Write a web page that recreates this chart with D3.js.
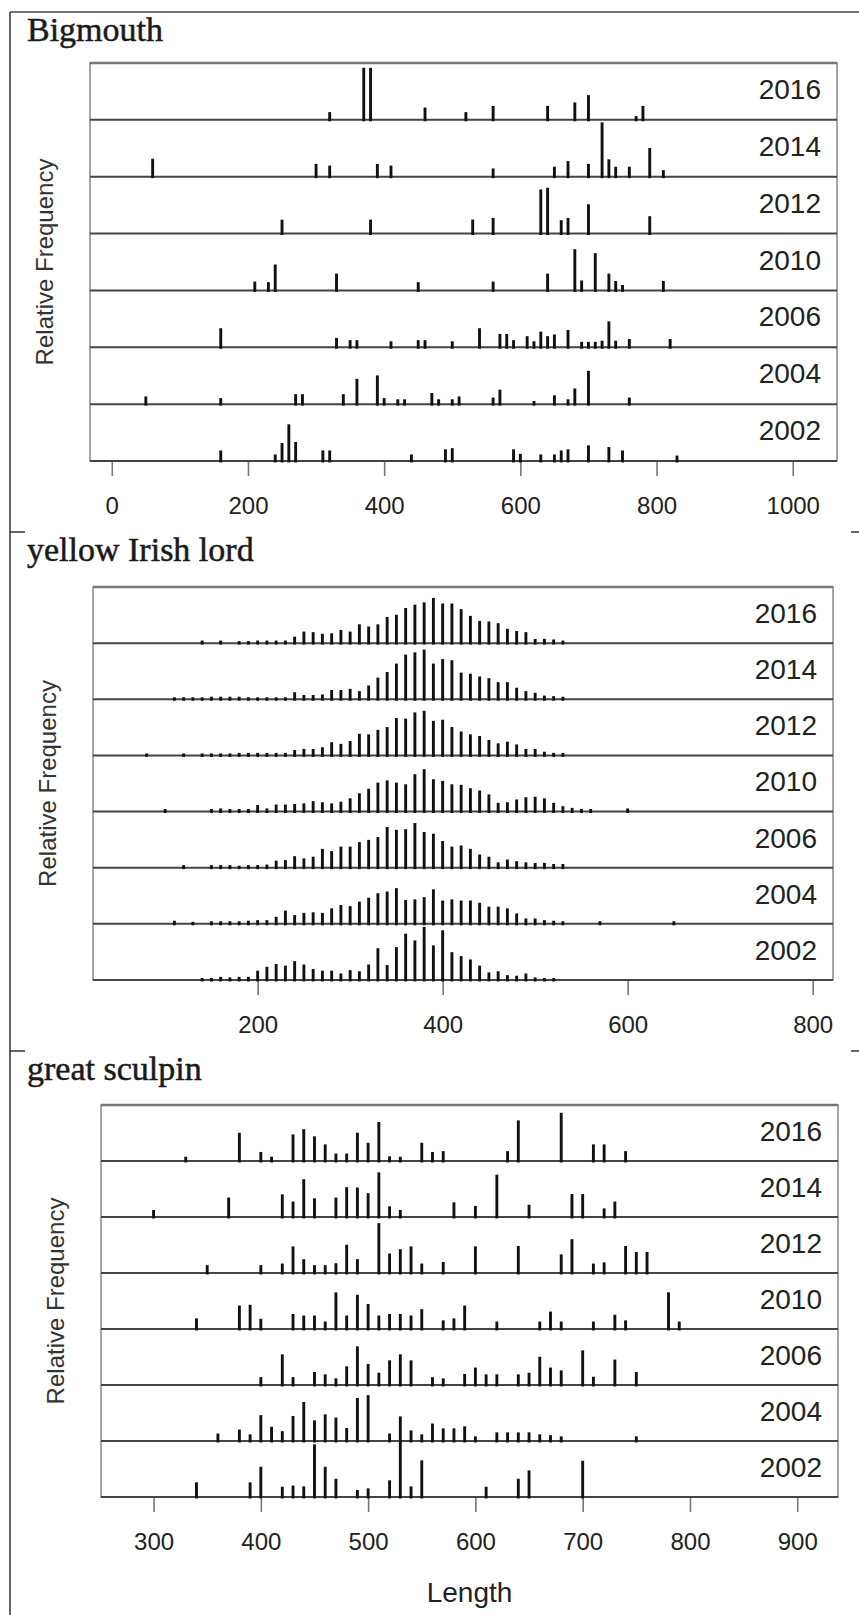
<!DOCTYPE html>
<html>
<head>
<meta charset="utf-8">
<script src="https://cdn.jsdelivr.net/npm/d3@7"></script>
<style>
  body { margin: 0; background: #fff; }
  svg { display: block; }
  text { font-family: "Liberation Sans", Arial, sans-serif; }
</style>
</head>
<body>
<div id="chart"></div>
<script>
var years = ["2016", "2014", "2012", "2010", "2006", "2004", "2002"];

// Bigmouth, [length, relative frequency %]
var bm2016 = [[320,3.3],[370,26.7],[380,26.7],[460,5.7],[520,3.3],[560,6.6],[640,6.6],[680,8.4],[700,12.3],[770,1.2],[780,6.6]];
var bm2014 = [[60,8.7],[300,6.0],[320,5.1],[390,6.0],[410,5.1],[560,3.6],[650,4.5],[670,7.5],[700,6.0],[720,27.9],[730,8.4],[740,4.5],[760,4.5],[790,14.4],[810,2.7]];
var bm2012 = [[250,6.6],[380,6.6],[530,6.6],[560,7.5],[630,22.5],[640,23.4],[660,6.3],[670,7.5],[700,14.7],[790,8.4]];
var bm2010 = [[210,3.9],[230,3.6],[240,12.9],[330,8.1],[450,3.6],[560,3.9],[640,8.1],[680,21.0],[690,4.5],[710,18.9],[730,8.1],[740,4.2],[750,2.1],[810,4.2]];
var bm2006 = [[160,9.3],[330,4.2],[350,3.0],[360,3.0],[410,2.4],[450,3.0],[460,3.0],[500,2.4],[540,9.3],[570,6.3],[580,6.3],[590,3.0],[610,5.1],[620,2.4],[630,7.5],[640,5.1],[650,6.0],[670,8.4],[690,2.1],[700,2.1],[710,2.1],[720,2.7],[730,12.9],[740,2.7],[760,3.6],[820,3.6]];
var bm2004 = [[50,3.3],[160,2.4],[270,4.5],[280,4.5],[340,4.5],[360,12.6],[390,14.4],[400,2.4],[420,1.8],[430,1.8],[470,5.1],[480,1.8],[500,1.8],[510,3.3],[560,2.7],[570,6.9],[620,0.9],[650,3.9],[670,1.8],[680,7.5],[700,16.8],[760,2.7]];
var bm2002 = [[160,4.8],[240,2.7],[250,8.7],[260,18.6],[270,9.3],[310,4.8],[320,4.8],[440,2.7],[490,5.4],[500,6.0],[590,5.4],[600,3.0],[630,2.7],[650,2.7],[660,4.8],[670,5.4],[700,7.5],[730,6.6],[750,4.8],[830,2.1]];
var bigmouthTicks = [0, 200, 400, 600, 800, 1000];

// yellow Irish lord
var yil2016 = [[140,0.2],[160,0.2],[180,0.1],[190,0.1],[200,0.2],[210,0.2],[220,0.2],[230,0.2],[240,0.9],[250,1.8],[260,1.7],[270,1.4],[280,1.5],[290,2.1],[300,1.8],[310,3.1],[320,2.7],[330,3.1],[340,4.4],[350,4.8],[360,6.0],[370,6.6],[380,7.0],[390,7.8],[400,6.8],[410,6.8],[420,5.8],[430,4.6],[440,3.7],[450,3.6],[460,3.3],[470,2.3],[480,1.9],[490,1.7],[500,0.5],[510,0.5],[520,0.4],[530,0.2]];
var yil2014 = [[110,0.1],[120,0.1],[130,0.1],[140,0.1],[150,0.2],[160,0.2],[170,0.2],[180,0.2],[190,0.1],[200,0.1],[210,0.1],[220,0.1],[230,0.1],[240,1.0],[250,0.5],[260,0.5],[270,0.6],[280,1.4],[290,1.4],[300,1.6],[310,1.2],[320,2.2],[330,3.6],[340,4.6],[350,6.1],[360,7.7],[370,8.1],[380,8.6],[390,6.1],[400,6.9],[410,6.7],[420,4.5],[430,4.3],[440,3.8],[450,3.5],[460,2.8],[470,2.8],[480,1.8],[490,1.2],[500,0.9],[510,0.4],[520,0.3],[530,0.2]];
var yil2012 = [[80,0.1],[120,0.1],[140,0.1],[150,0.1],[160,0.1],[170,0.1],[180,0.2],[190,0.2],[200,0.2],[210,0.2],[220,0.2],[230,0.2],[240,0.7],[250,0.9],[260,0.9],[270,1.2],[280,2.1],[290,1.8],[300,2.3],[310,3.6],[320,3.5],[330,4.3],[340,4.8],[350,6.4],[360,6.3],[370,7.4],[380,7.7],[390,5.9],[400,6.1],[410,4.8],[420,4.0],[430,3.5],[440,3.2],[450,2.5],[460,1.9],[470,2.2],[480,1.7],[490,0.9],[500,0.9],[510,0.4],[520,0.2],[530,0.2]];
var yil2010 = [[100,0.2],[150,0.2],[160,0.3],[170,0.2],[180,0.2],[190,0.2],[200,0.9],[210,0.3],[220,1.0],[230,1.0],[240,1.1],[250,1.2],[260,1.6],[270,1.4],[280,1.2],[290,1.5],[300,2.1],[310,3.0],[320,3.8],[330,4.9],[340,5.3],[350,4.9],[360,4.6],[370,6.4],[380,7.3],[390,5.5],[400,5.2],[410,4.6],[420,4.5],[430,3.9],[440,3.5],[450,2.8],[460,1.3],[470,1.4],[480,1.9],[490,2.3],[500,2.4],[510,2.1],[520,1.3],[530,0.7],[540,0.4],[550,0.2],[560,0.2],[600,0.3]];
var yil2006 = [[120,0.2],[150,0.2],[160,0.2],[170,0.2],[180,0.1],[190,0.2],[200,0.2],[210,0.3],[220,1.0],[230,1.1],[240,1.8],[250,1.4],[260,1.7],[270,3.1],[280,2.7],[290,3.5],[300,3.5],[310,4.3],[320,4.7],[330,5.2],[340,7.0],[350,6.5],[360,6.6],[370,7.7],[380,6.1],[390,5.8],[400,4.5],[410,3.5],[420,3.7],[430,3.1],[440,2.1],[450,1.7],[460,0.7],[470,1.2],[480,0.9],[490,0.7],[500,0.6],[510,0.6],[520,0.4],[530,0.4]];
var yil2004 = [[110,0.3],[130,0.1],[150,0.2],[160,0.2],[170,0.2],[180,0.2],[190,0.3],[200,0.4],[210,0.4],[220,1.0],[230,2.1],[240,1.3],[250,1.7],[260,1.8],[270,1.7],[280,2.5],[290,3.1],[300,2.9],[310,3.7],[320,4.4],[330,5.2],[340,5.5],[350,6.1],[360,4.0],[370,4.1],[380,4.5],[390,5.9],[400,3.9],[410,4.1],[420,3.9],[430,3.9],[440,3.5],[450,2.8],[460,2.8],[470,2.5],[480,1.6],[490,0.7],[500,0.7],[510,0.4],[520,0.3],[530,0.2],[570,0.2],[650,0.2]];
var yil2002 = [[140,0.1],[150,0.1],[160,0.3],[170,0.2],[180,0.3],[190,0.3],[200,1.4],[210,2.1],[220,2.6],[230,2.3],[240,3.1],[250,2.5],[260,1.7],[270,1.4],[280,1.4],[290,0.9],[300,1.5],[310,1.3],[320,2.5],[330,5.4],[340,2.4],[350,5.6],[360,8.0],[370,6.8],[380,9.2],[390,5.9],[400,8.6],[410,4.7],[420,4.0],[430,3.4],[440,2.3],[450,1.1],[460,1.3],[470,0.6],[480,0.5],[490,0.9],[500,0.2],[510,0.1],[520,0.1]];
var yilTicks = [200, 400, 600, 800];

// great sculpin
var gs2016 = [[330,0.7],[380,6.7],[400,1.9],[410,0.7],[430,6.3],[440,7.6],[450,5.8],[460,3.8],[470,1.5],[480,1.5],[490,6.7],[500,4.2],[510,9.4],[520,0.8],[530,0.7],[550,4.2],[560,1.9],[570,2.1],[630,2.1],[640,9.8],[680,11.7],[710,3.8],[720,3.8],[740,2.1]];
var gs2014 = [[300,1.4],[370,4.5],[420,5.3],[430,3.5],[440,9.1],[450,4.3],[470,4.5],[480,7.1],[490,7.0],[500,5.6],[510,10.8],[520,2.3],[530,1.4],[580,3.3],[600,2.4],[620,10.2],[650,2.7],[690,5.4],[700,5.4],[720,1.8],[730,3.5]];
var gs2012 = [[350,1.6],[400,1.6],[420,2.0],[430,6.3],[440,3.1],[450,1.6],[460,1.6],[470,2.1],[480,6.7],[490,3.1],[510,12.1],[520,4.5],[530,5.6],[540,6.3],[550,2.0],[570,2.4],[600,6.3],[640,6.4],[680,4.3],[690,8.1],[710,2.0],[720,2.3],[740,6.4],[750,4.9],[760,4.9]];
var gs2010 = [[340,2.3],[380,5.5],[390,5.7],[400,2.2],[430,3.4],[440,3.0],[450,3.0],[460,1.5],[470,8.8],[480,3.0],[490,8.2],[500,5.9],[510,3.0],[520,3.4],[530,3.4],[540,3.0],[550,4.6],[570,1.8],[580,2.3],[590,5.5],[620,1.5],[660,1.5],[670,4.0],[680,1.5],[710,1.5],[730,3.2],[740,1.8],[780,8.8],[790,1.5]];
var gs2006 = [[400,1.6],[420,7.3],[430,1.6],[450,2.9],[460,2.3],[470,1.3],[480,4.3],[490,9.3],[500,4.9],[510,2.7],[520,5.8],[530,7.3],[540,5.8],[560,1.6],[570,1.3],[590,2.4],[600,4.0],[610,2.3],[620,2.3],[640,2.3],[650,2.7],[660,6.7],[670,4.0],[680,3.3],[700,8.3],[710,1.7],[730,6.0],[750,2.9]];
var gs2004 = [[360,1.5],[380,2.5],[390,1.3],[400,6.1],[410,3.2],[420,2.1],[430,5.9],[440,9.4],[450,4.8],[460,6.3],[470,5.5],[480,2.9],[490,10.4],[500,11.1],[520,1.5],[540,2.3],[550,1.3],[560,4.0],[570,2.8],[580,2.8],[590,3.3],[600,0.8],[620,1.8],[630,1.8],[640,1.8],[650,1.8],[660,1.3],[670,1.1],[680,0.8],[750,0.8]];
var gs2002 = [[340,3.3],[390,3.3],[400,7.2],[420,2.2],[430,2.5],[440,2.3],[450,12.8],[460,7.2],[470,4.2],[490,1.4],[500,1.8],[520,3.8],[530,19.8],[540,2.3],[550,8.8],[610,2.2],[640,4.2],[650,6.3],[700,8.7]];
var gsTicks = [300, 400, 500, 600, 700, 800, 900];

var width = 859, height = 1615;

var panels = [
  { title: "Bigmouth", titleY: 41, series: [bm2016, bm2014, bm2012, bm2010, bm2006, bm2004, bm2002],
    ticks: bigmouthTicks, domain: [-32, 1065], yMax: 30, left: 90, right: 837, top: 63, bottom: 461 },
  { title: "yellow Irish lord", titleY: 561, series: [yil2016, yil2014, yil2012, yil2010, yil2006, yil2004, yil2002],
    ticks: yilTicks, domain: [22, 822], yMax: 10, left: 93, right: 833, top: 587, bottom: 980 },
  { title: "great sculpin", titleY: 1080, series: [gs2016, gs2014, gs2012, gs2010, gs2006, gs2004, gs2002],
    ticks: gsTicks, domain: [251, 938], yMax: 14, left: 101, right: 838, top: 1105, bottom: 1497 }
];

var svg = d3.select("#chart").append("svg")
  .attr("width", width)
  .attr("height", height);

// outer frame
svg.append("line").attr("x1", 10).attr("x2", 10).attr("y1", 12).attr("y2", height)
  .attr("stroke", "#333").attr("stroke-width", 1.5);
svg.append("line").attr("x1", 10).attr("x2", width).attr("y1", 12).attr("y2", 12)
  .attr("stroke", "#444").attr("stroke-width", 1.5);
[532, 1051].forEach(function(yy) {
  svg.append("line").attr("x1", 10).attr("x2", 25).attr("y1", yy).attr("y2", yy)
    .attr("stroke", "#333").attr("stroke-width", 1.5);
  svg.append("line").attr("x1", 851).attr("x2", width).attr("y1", yy).attr("y2", yy)
    .attr("stroke", "#333").attr("stroke-width", 1.5);
});

function drawPanel(p) {
  var g = svg.append("g");
  var x = d3.scaleLinear().domain(p.domain).range([p.left, p.right]);
  var stripH = (p.bottom - p.top) / years.length;

  g.append("text")
    .attr("x", 27).attr("y", p.titleY)
    .style("font-family", "'Liberation Serif', 'Times New Roman', serif")
    .style("font-size", "34px")
    .attr("fill", "#1a1a1a")
    .attr("stroke", "#1a1a1a")
    .attr("stroke-width", 0.5)
    .text(p.title);

  // box
  g.append("rect")
    .attr("x", p.left).attr("y", p.top)
    .attr("width", p.right - p.left).attr("height", p.bottom - p.top)
    .attr("fill", "none").attr("stroke", "#888").attr("stroke-width", 1.5);
  g.append("line")
    .attr("x1", p.left).attr("x2", p.right).attr("y1", p.top).attr("y2", p.top)
    .attr("stroke", "#777").attr("stroke-width", 2.5);

  // x axis
  var axis = g.append("g")
    .attr("transform", "translate(0," + p.bottom + ")")
    .call(d3.axisBottom(x).tickValues(p.ticks).tickFormat(d3.format("d")).tickSize(15).tickPadding(21));
  axis.select(".domain").remove();
  axis.selectAll(".tick line").attr("stroke", "#777").attr("stroke-width", 1.6);
  axis.selectAll(".tick text")
    .attr("fill", "#222")
    .style("font-family", "'Liberation Sans', Arial, sans-serif")
    .style("font-size", "24px");

  g.append("text")
    .attr("transform", "translate(" + (p.left - 45) + "," + ((p.top + p.bottom) / 2) + ") rotate(-90)")
    .attr("text-anchor", "middle")
    .attr("dy", "0.35em")
    .attr("fill", "#333")
    .style("font-size", "24px")
    .text("Relative Frequency");

  years.forEach(function(yr, i) {
    var stripTop = p.top + i * stripH;
    var base = stripTop + stripH;
    var y = d3.scaleLinear().domain([0, p.yMax]).range([base, stripTop]);

    g.append("line")
      .attr("x1", p.left).attr("x2", p.right).attr("y1", base).attr("y2", base)
      .attr("stroke", "#444").attr("stroke-width", 2);

    g.append("text")
      .attr("x", p.right - 16).attr("y", stripTop + 36)
      .attr("text-anchor", "end")
      .attr("fill", "#222")
      .style("font-size", "28px")
      .text(yr);

    g.append("g").selectAll("line")
      .data(p.series[i])
      .enter().append("line")
      .attr("x1", function(d) { return x(d[0]); })
      .attr("x2", function(d) { return x(d[0]); })
      .attr("y1", base)
      .attr("y2", function(d) { return y(d[1]); })
      .attr("stroke", "#111")
      .attr("stroke-width", 2.9)
      .attr("stroke-linecap", "square");
  });
}

panels.forEach(drawPanel);

svg.append("text")
  .attr("x", (panels[2].left + panels[2].right) / 2)
  .attr("y", 1602)
  .attr("text-anchor", "middle")
  .attr("fill", "#222")
  .style("font-size", "28px")
  .text("Length");
</script>
</body>
</html>
